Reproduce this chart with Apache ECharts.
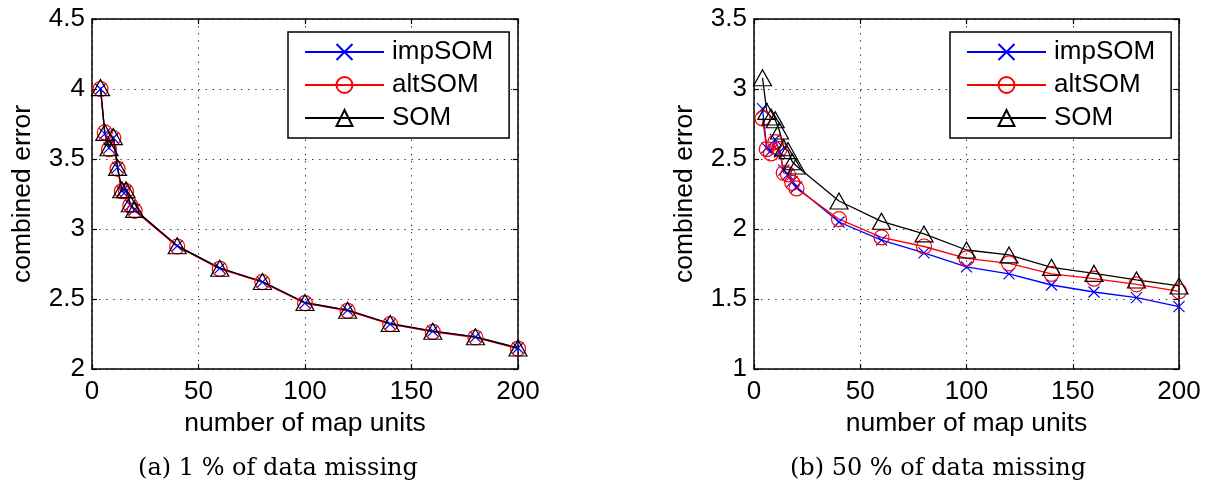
<!DOCTYPE html>
<html><head><meta charset="utf-8">
<script src="https://cdn.jsdelivr.net/npm/echarts@6/dist/echarts.min.js"></script>
<style>html,body{margin:0;padding:0;background:#fff}#c{width:1218px;height:488px}</style>
</head><body><div id="c"></div>
<script>
// ---- data ----
const mapUnits = [4, 6, 8, 10, 12, 14, 16, 18, 20, 40, 60, 80, 100, 120, 140, 160, 180, 200];
// (a) 1 % of data missing
const impSOM_a = [4.00, 3.68, 3.58, 3.65, 3.44, 3.27, 3.27, 3.17, 3.14, 2.88, 2.72, 2.62, 2.47, 2.42, 2.32, 2.27, 2.23, 2.15];
const altSOM_a = [4.00, 3.69, 3.57, 3.65, 3.43, 3.27, 3.27, 3.17, 3.13, 2.875, 2.715, 2.62, 2.47, 2.415, 2.32, 2.265, 2.225, 2.145];
const SOM_a    = [4.01, 3.69, 3.58, 3.66, 3.44, 3.28, 3.28, 3.18, 3.14, 2.88, 2.72, 2.625, 2.475, 2.42, 2.325, 2.27, 2.23, 2.15];
// (b) 50 % of data missing
const impSOM_b = [2.86, 2.58, 2.56, 2.64, 2.55, 2.42, 2.39, 2.34, 2.30, 2.05, 1.92, 1.83, 1.73, 1.68, 1.60, 1.55, 1.51, 1.445];
const altSOM_b = [2.79, 2.57, 2.54, 2.62, 2.57, 2.40, 2.39, 2.33, 2.29, 2.07, 1.94, 1.875, 1.79, 1.755, 1.68, 1.645, 1.605, 1.555];
const SOM_b    = [3.08, 2.84, 2.80, 2.78, 2.70, 2.58, 2.56, 2.48, 2.45, 2.20, 2.055, 1.965, 1.85, 1.815, 1.726, 1.683, 1.636, 1.593];
const seriesNames = ['impSOM', 'altSOM', 'SOM'];
const xTicks = [0, 50, 100, 150, 200];
const yTicksA = [2, 2.5, 3, 3.5, 4, 4.5];
const yTicksB = [1, 1.5, 2, 2.5, 3, 3.5];
const xLabel = 'number of map units';
const yLabel = 'combined error';
const captions = ['(a) 1 % of data missing', '(b) 50 % of data missing'];

// ---- styling ----
const FONT = 'Liberation Sans, Arial, Helvetica, sans-serif';
const zip = (xs, ys) => xs.map((x, i) => [x, ys[i]]);
const styles = {
  impSOM: {color: '#0000ff', symbol: 'path://M0,0L10,10M10,0L0,10', size: 11},
  altSOM: {color: '#ff0000', symbol: 'circle', size: 15},
  SOM:    {color: '#000000', symbol: 'triangle', size: [18, 16]}
};
function mkSeries(name, vals, gi) {
  const s = styles[name];
  return {
    type: 'line', name: name, xAxisIndex: gi * 2, yAxisIndex: gi * 2,
    data: zip(mapUnits, vals),
    symbol: s.symbol, symbolSize: s.size, showSymbol: true,
    lineStyle: {color: s.color, width: 1.3},
    itemStyle: {color: 'rgba(0,0,0,0)', borderColor: s.color, borderWidth: 1.2},
    emphasis: {disabled: true}, z: 3
  };
}
const gridRects = [
  {left: 92, top: 19, width: 426, height: 350},
  {left: 754, top: 19, width: 425, height: 350}
];
const yTickSets = [yTicksA, yTicksB];
const xAxes = [], yAxes = [];
gridRects.forEach((g, gi) => {
  const xmin = xTicks[0], xmax = xTicks[xTicks.length - 1], xint = xTicks[1] - xTicks[0];
  const yt = yTickSets[gi];
  const ymin = yt[0], ymax = yt[yt.length - 1], yint = yt[1] - yt[0];
  const line = {show: true, onZero: false, lineStyle: {color: '#000', width: 1.5}};
  const tick = {show: true, inside: true, length: 5, lineStyle: {color: '#000', width: 1.2}};
  const split = {show: true, lineStyle: {color: '#222', width: 1, type: [1.3, 5.8]}};
  xAxes.push({type: 'value', gridIndex: gi, position: 'bottom', min: xmin, max: xmax, interval: xint,
    axisLine: line, axisTick: tick, splitLine: split,
    axisLabel: {fontFamily: FONT, fontSize: 26, color: '#000', margin: 10},
    name: xLabel, nameLocation: 'middle', nameGap: 38,
    nameTextStyle: {fontFamily: FONT, fontSize: 26.5, color: '#000'}});
  xAxes.push({type: 'value', gridIndex: gi, position: 'top', min: xmin, max: xmax, interval: xint,
    axisLine: line, axisTick: tick, splitLine: {show: false}, axisLabel: {show: false}});
  yAxes.push({type: 'value', gridIndex: gi, position: 'left', min: ymin, max: ymax, interval: yint,
    axisLine: line, axisTick: tick, splitLine: split,
    axisLabel: {fontFamily: FONT, fontSize: 26, color: '#000', margin: 7},
    name: yLabel, nameLocation: 'middle', nameGap: 56,
    nameTextStyle: {fontFamily: FONT, fontSize: 26.5, color: '#000'}});
  yAxes.push({type: 'value', gridIndex: gi, position: 'right', min: ymin, max: ymax, interval: yint,
    axisLine: line, axisTick: tick, splitLine: {show: false}, axisLabel: {show: false}});
});

const legendBase = {
  orient: 'vertical', top: 32, data: seriesNames,
  padding: [7, 16, 7, 16], itemGap: 7, itemWidth: 79, itemHeight: 20,
  textStyle: {fontFamily: FONT, fontSize: 26, color: '#000', lineHeight: 26, padding: [0, 0, 0, 3]},
  borderColor: '#000', borderWidth: 1.5, backgroundColor: '#fff', borderRadius: 0,
  selectedMode: false, inactiveColor: '#000'
};

const chart = echarts.init(document.getElementById('c'), null, {renderer: 'canvas'});
chart.setOption({
  animation: false,
  backgroundColor: '#fff',
  grid: gridRects.map(r => Object.assign({outerBoundsMode: 'none', containLabel: false}, r)),
  xAxis: xAxes,
  yAxis: yAxes,
  legend: [Object.assign({left: 288}, legendBase), Object.assign({left: 950}, legendBase)],
  series: [
    mkSeries('impSOM', impSOM_a, 0), mkSeries('altSOM', altSOM_a, 0), mkSeries('SOM', SOM_a, 0),
    mkSeries('impSOM', impSOM_b, 1), mkSeries('altSOM', altSOM_b, 1), mkSeries('SOM', SOM_b, 1)
  ],
  graphic: [
    {type: 'text', x: 278, y: 469, style: {text: captions[0], font: '24px "DejaVu Serif", serif', fill: '#000', align: 'center', verticalAlign: 'middle'}},
    {type: 'text', x: 938, y: 469, style: {text: captions[1], font: '24px "DejaVu Serif", serif', fill: '#000', align: 'center', verticalAlign: 'middle'}}
  ]
});
</script></body></html>
